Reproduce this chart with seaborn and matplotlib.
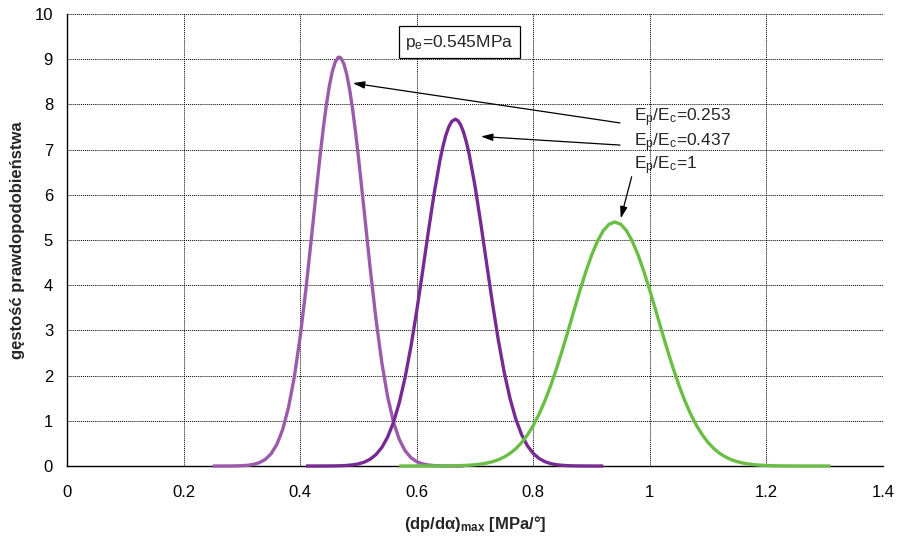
import matplotlib
matplotlib.use("Agg")
import matplotlib.pyplot as plt
import numpy as np
import pandas as pd
import seaborn as sns

# (dp/dalpha)_max values and probability density for each stiffness ratio
x_0253 = [0.25, 0.26, 0.27, 0.28, 0.29, 0.30, 0.31, 0.32, 0.33, 0.34, 0.35,
          0.36, 0.37, 0.38, 0.39, 0.40, 0.41, 0.42, 0.43, 0.435, 0.44, 0.445,
          0.45, 0.455, 0.46, 0.465, 0.467,
          0.47, 0.475, 0.48, 0.485, 0.49, 0.495, 0.50, 0.51, 0.52, 0.53,
          0.54, 0.55, 0.56, 0.57, 0.58, 0.59, 0.60, 0.61, 0.62, 0.63, 0.64,
          0.65, 0.66, 0.67, 0.68]
y_0253 = [0.000, 0.0001, 0.0004, 0.0011, 0.0029, 0.007, 0.016, 0.035, 0.073,
          0.143, 0.268, 0.477, 0.805, 1.292, 1.970, 2.853, 3.923, 5.126,
          6.362, 6.952, 7.500, 7.988, 8.398, 8.718, 8.933, 9.037, 9.046,
          9.025, 8.898, 8.662, 8.323, 7.896, 7.394, 6.837, 5.624, 4.394,
          3.260, 2.298, 1.539, 0.979, 0.591, 0.339, 0.185, 0.096, 0.047,
          0.022, 0.0098, 0.0041, 0.0016, 0.0006, 0.0002, 0.0001]

x_0437 = [0.41, 0.42, 0.43, 0.44, 0.45, 0.46, 0.47, 0.48, 0.49, 0.50, 0.51,
          0.52, 0.53, 0.54, 0.55, 0.56, 0.57, 0.58, 0.59, 0.60, 0.61, 0.62,
          0.63, 0.64, 0.645, 0.65, 0.655, 0.66, 0.666,
          0.67, 0.675, 0.68, 0.685, 0.69, 0.70, 0.71, 0.72, 0.73, 0.74,
          0.75, 0.76, 0.77, 0.78, 0.79, 0.80, 0.81, 0.82, 0.83, 0.84, 0.85,
          0.86, 0.87, 0.88, 0.89, 0.90, 0.91, 0.92]
y_0437 = [0.0000, 0.0001, 0.0003, 0.0006, 0.0014, 0.0030, 0.0063, 0.0128,
          0.025, 0.047, 0.085, 0.149, 0.251, 0.407, 0.637, 0.961, 1.396,
          1.954, 2.637, 3.429, 4.296, 5.188, 6.037, 6.771, 7.071, 7.318,
          7.502, 7.621, 7.672,
          7.649, 7.558, 7.399, 7.177, 6.897, 6.196, 5.363, 4.474, 3.597,
          2.787, 2.081, 1.497, 1.038, 0.694, 0.447, 0.277, 0.166, 0.0956,
          0.053, 0.028, 0.0146, 0.0073, 0.0035, 0.0016, 0.0007, 0.0003,
          0.0001, 0.0000]

x_1 = [0.57, 0.58, 0.59, 0.60, 0.61, 0.62, 0.63, 0.64, 0.65, 0.66, 0.67,
       0.68, 0.69, 0.70, 0.71, 0.72, 0.73, 0.74, 0.75, 0.76, 0.77, 0.78,
       0.79, 0.80, 0.81, 0.82, 0.83, 0.84, 0.85, 0.86, 0.87, 0.88, 0.89,
       0.90, 0.91, 0.92, 0.93, 0.94, 0.95, 0.96, 0.97, 0.98, 0.99, 1.00,
       1.01, 1.02, 1.03, 1.04, 1.05, 1.06, 1.07, 1.08, 1.09, 1.10, 1.11,
       1.12, 1.13, 1.14, 1.15, 1.16, 1.17, 1.18, 1.19, 1.20, 1.21, 1.22,
       1.23, 1.24, 1.25, 1.26, 1.27, 1.28, 1.29, 1.30, 1.31]
y_1 = [0.0000, 0.0000, 0.0001, 0.0001, 0.0003, 0.0005, 0.0008, 0.0014,
       0.0024, 0.0041, 0.0068, 0.0111, 0.0177, 0.0277, 0.0426, 0.0642,
       0.0952, 0.1386, 0.198, 0.278, 0.383, 0.518, 0.688, 0.897, 1.149,
       1.444, 1.783, 2.161, 2.572, 3.004, 3.447, 3.882, 4.294, 4.662,
       4.971, 5.204, 5.349,
       5.398,
       5.349, 5.204, 4.971, 4.662, 4.294, 3.882, 3.447, 3.004, 2.572,
       2.161, 1.783, 1.444, 1.149, 0.897, 0.688, 0.518, 0.383, 0.278,
       0.198, 0.1386, 0.0952, 0.0642, 0.0426, 0.0277, 0.0177, 0.0111,
       0.0068, 0.0041, 0.0024, 0.0014, 0.0008, 0.0005, 0.0003, 0.0001,
       0.0001, 0.0000, 0.0000]

series_names = ["0.253", "0.437", "1"]
series_colors = ["#9B5BAA", "#772A91", "#6BBE45"]

x_ticks = [0, 0.2, 0.4, 0.6, 0.8, 1.0, 1.2, 1.4]
x_tick_labels = ["0", "0.2", "0.4", "0.6", "0.8", "1", "1.2", "1.4"]
y_ticks = [0, 1, 2, 3, 4, 5, 6, 7, 8, 9, 10]

sns.set_style("white")
plt.rcParams["font.family"] = ["Liberation Sans", "DejaVu Sans"]
plt.rcParams["mathtext.fontset"] = "custom"
plt.rcParams["mathtext.rm"] = "Liberation Sans"
plt.rcParams["mathtext.it"] = "Liberation Sans:italic"
plt.rcParams["mathtext.bf"] = "Liberation Sans:bold"

df = pd.concat([
    pd.DataFrame({"x": x_0253, "y": y_0253, "ratio": series_names[0]}),
    pd.DataFrame({"x": x_0437, "y": y_0437, "ratio": series_names[1]}),
    pd.DataFrame({"x": x_1, "y": y_1, "ratio": series_names[2]}),
])

fig = plt.figure(figsize=(8.97, 5.38), dpi=100)
ax = fig.add_axes([67 / 897, 1 - 466 / 538, 816 / 897, 452 / 538])

sns.lineplot(data=df, x="x", y="y", hue="ratio", hue_order=series_names,
             palette=dict(zip(series_names, series_colors)),
             estimator=None, sort=False, legend=False, linewidth=2.4, ax=ax)
for line in ax.lines:
    line.set_clip_on(False)
    line.set_zorder(3)
    line.set_solid_capstyle("butt")
    line.set_solid_joinstyle("round")

ax.set_xlim(0, 1.4)
ax.set_ylim(0, 10)
ax.set_xticks(x_ticks)
ax.set_xticklabels(x_tick_labels)
ax.set_yticks(y_ticks)
ax.grid(True, color="black", linestyle=(0, (1, 1)), linewidth=0.7)
ax.set_axisbelow(True)

for side in ("top", "right"):
    ax.spines[side].set_visible(False)
for side in ("left", "bottom"):
    ax.spines[side].set_color("black")
    ax.spines[side].set_linewidth(1.0)
    ax.spines[side].set_zorder(2)

ax.tick_params(axis="both", direction="out", length=4, width=0.8,
               color="black", labelsize=12, labelcolor="black")
ax.tick_params(axis="x", pad=10)
ax.tick_params(axis="y", pad=6)

ax.set_xlabel(r"$\mathbf{(dp/dα)_{max}}$ [MPa/°]", fontsize=12,
              fontweight="bold")
ax.xaxis.label.set_va("center")
ax.xaxis.set_label_coords(0.5, (466 - 524) / 452)
ax.set_ylabel("gęstość prawdopodobieństwa", fontsize=12, fontweight="bold")
ax.yaxis.label.set_va("center")
ax.yaxis.set_label_coords((18 - 67) / 816, 0.5)

ax.text(0.6734, 9.38, r"$\mathregular{p_e}$=0.545MPa", fontsize=12.5,
        ha="center", va="center", zorder=5,
        bbox=dict(boxstyle="square,pad=0.35", fc="white", ec="black",
                  lw=0.9))

label_y = [7.70, 7.15, 6.64]
for name, ly in zip(series_names, label_y):
    ax.text(0.973, ly, r"$\mathregular{E_p/E_c}$=" + name, fontsize=12.5,
            ha="left", va="center", zorder=5)

arrow_style = dict(arrowstyle="-|>,head_length=0.7,head_width=0.22",
                   color="black", lw=0.9, shrinkA=0, shrinkB=0)
ax.annotate("", xy=(0.4905, 8.47), xytext=(0.9488, 7.59),
            arrowprops=arrow_style, zorder=5)
ax.annotate("", xy=(0.7103, 7.29), xytext=(0.9488, 7.10),
            arrowprops=arrow_style, zorder=5)
ax.annotate("", xy=(0.950, 5.48), xytext=(0.9688, 6.40),
            arrowprops=arrow_style, zorder=5)

fig.savefig("out.png", dpi=100)
